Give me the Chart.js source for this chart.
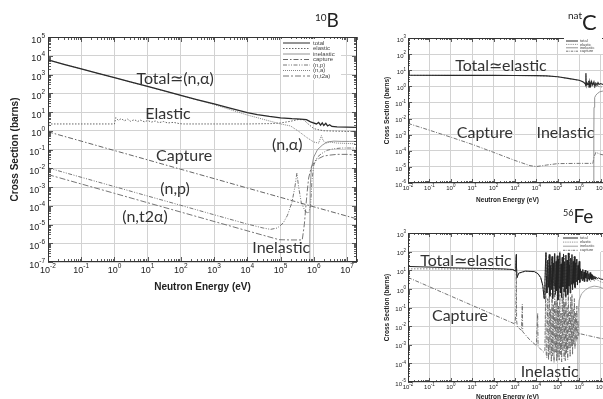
<!DOCTYPE html>
<html>
<head>
<meta charset="utf-8">
<script src="https://cdn.jsdelivr.net/npm/chart.js@4/dist/chart.umd.min.js"></script>
<style>
  html, body { margin: 0; padding: 0; background: #fff; width: 603px; height: 399px; overflow: hidden; }
  body { position: relative; }
  canvas { position: absolute; }
</style>
</head>
<body>
<canvas id="b10" width="372" height="300" style="left:0;top:0"></canvas>
<canvas id="natc" width="260" height="205" style="left:360px;top:0"></canvas>
<canvas id="fe56" width="260" height="199" style="left:360px;top:200px"></canvas>
<script>
// energy axis decades (eV) and cross-section decades (barns)
const xDecades = [-2, -1, 0, 1, 2, 3, 4, 5, 6, 7];
const b10YDecades = [-7, -6, -5, -4, -3, -2, -1, 0, 1, 2, 3, 4, 5];
const cYDecades = [-6, -5, -4, -3, -2, -1, 0, 1, 2, 3];
const feYDecades = [-5, -4, -3, -2, -1, 0, 1, 2, 3];

const b10Labels = ['total', 'elastic', 'inelastic', 'capture', '(n,p)', '(n,a)', '(n,t2a)'];
const mainLabels = ['total', 'elastic', 'inelastic', 'capture'];

// ---- 10B : [energy eV, cross section barns]
const b10Total = [[0.01, 6000], [0.03, 3500], [0.1, 2000], [0.3, 1180], [1, 680], [3, 400], [10, 230],
  [30, 136], [100, 78], [300, 46], [1e3, 27], [3e3, 16], [1e4, 9.2], [2e4, 7.2], [4.6e4, 5.8], [1e5, 4.9],
  [2.2e5, 4.4], [4e5, 4.2], [6e5, 3.9], [8e5, 3.0], [1.2e6, 2.3], [1.4e6, 2.8], [1.6e6, 2.0], [1.8e6, 2.6],
  [2e6, 1.9], [2.3e6, 2.5], [2.6e6, 1.8], [3e6, 2.1], [3.5e6, 1.7], [5e6, 1.6], [1e7, 1.55], [2e7, 1.5]];
const b10Elastic = [[0.01, 2.3], [0.5, 2.3], [1, 2.3], [1.1, 5.0], [1.3, 3.6], [1.6, 4.4], [2, 3.4], [2.5, 4.2],
  [3, 3.2], [4, 3.9], [5, 3.1], [6, 3.7], [8, 3.0], [10, 3.5], [13, 2.9], [17, 3.3], [22, 2.7], [30, 3.1],
  [40, 2.6], [60, 2.8], [90, 2.4], [120, 2.3], [1e3, 2.3], [1e4, 2.3], [5e4, 2.4], [1e5, 2.6], [2e5, 3.2],
  [3.5e5, 4.0], [5e5, 3.8], [7e5, 2.2], [1e6, 1.3], [1.5e6, 1.1], [2e6, 1.0], [5e6, 0.95], [1e7, 0.92], [2e7, 0.9]];
const b10Inelastic = [[7.5e5, 1e-9], [7.6e5, 1e-6], [7.8e5, 1e-3], [8.5e5, 0.01], [1e6, 0.04], [1.3e6, 0.1],
  [1.8e6, 0.17], [2.5e6, 0.25], [4e6, 0.28], [7e6, 0.27], [1.2e7, 0.27], [2e7, 0.27]];
const b10Capture = [[0.01, 0.88], [0.1, 0.28], [1, 0.088], [10, 0.028], [100, 8.8e-3], [1e3, 2.8e-3],
  [1e4, 8.8e-4], [1e5, 2.8e-4], [1e6, 8.8e-5], [1e7, 2.8e-5], [2e7, 2e-5]];
const b10Np = [[0.01, 0.0105], [0.1, 3.3e-3], [1, 1.05e-3], [10, 3.3e-4], [100, 1.05e-4], [1e3, 3.3e-5],
  [1e4, 1.05e-5], [3e4, 6.5e-6], [5e4, 5.5e-6], [8e4, 6.5e-6], [1.2e5, 1.2e-5], [1.6e5, 3e-5], [2.2e5, 1.5e-4],
  [2.7e5, 1e-3], [3.1e5, 5.5e-3], [3.5e5, 1e-3], [4.2e5, 1.5e-4], [5.5e5, 5e-5], [7e5, 4e-5], [8e5, 1e-4],
  [8.8e5, 2e-3], [1e6, 0.015], [1.3e6, 0.04], [1.7e6, 0.06], [2.5e6, 0.09], [4e6, 0.11], [7e6, 0.12],
  [1.2e7, 0.12], [2e7, 0.12]];
const b10Na = [[0.01, 5995], [0.1, 1998], [1, 677], [10, 227], [100, 76], [1e3, 25], [1e4, 6.9], [5e4, 3.2],
  [1e5, 2.3], [2e5, 1.8], [3.6e5, 0.9], [6e5, 0.45], [1e6, 0.25], [1.4e6, 0.22], [1.7e6, 0.55], [1.9e6, 0.3],
  [2.4e6, 0.22], [3e6, 0.25], [5e6, 0.22], [1e7, 0.21], [2e7, 0.2]];
const b10Nt2a = [[0.01, 4.6e-3], [0.1, 1.45e-3], [1, 4.6e-4], [10, 1.45e-4], [100, 4.6e-5], [1e3, 1.45e-5],
  [1e4, 4.6e-6], [9e4, 1.55e-6], [2e5, 1.5e-6], [4.5e5, 1.5e-6], [5.2e5, 1e-5], [5.8e5, 1e-4], [6.3e5, 5e-4],
  [7e5, 3e-3], [8.5e5, 0.012], [1.1e6, 0.025], [1.5e6, 0.035], [2e6, 0.045], [3e6, 0.05], [5e6, 0.055],
  [1e7, 0.055], [2e7, 0.05]];

// ---- natC
const cTotal = [[0.01, 4.85], [1, 4.8], [100, 4.78], [1e3, 4.75], [1e4, 4.65], [3e4, 4.45], [1e5, 3.95],
  [3e5, 3.1], [1e6, 2.4], [1.5e6, 1.9], [1.9e6, 1.5], [2.05e6, 1.1], [2.08e6, 6.5], [2.12e6, 1.2], [2.3e6, 1.7],
  [2.6e6, 1.3], [2.8e6, 2.2], [2.9e6, 0.9], [3.2e6, 1.8], [3.5e6, 1.1], [3.8e6, 2.0], [4.3e6, 1.2], [4.9e6, 1.9],
  [5.4e6, 1.0], [6e6, 1.6], [6.8e6, 1.2], [7.6e6, 1.7], [8.5e6, 1.3], [1e7, 1.5], [1.3e7, 1.3], [2e7, 1.3]];
const cElastic = [[0.01, 4.8], [1, 4.75], [100, 4.74], [1e3, 4.7], [1e4, 4.6], [3e4, 4.4], [1e5, 3.9],
  [3e5, 3.05], [1e6, 2.35], [1.5e6, 1.85], [1.9e6, 1.45], [2.05e6, 1.05], [2.08e6, 6.3], [2.12e6, 1.15],
  [2.3e6, 1.65], [2.6e6, 1.25], [2.8e6, 2.1], [2.9e6, 0.85], [3.2e6, 1.75], [3.5e6, 1.05], [3.8e6, 1.9],
  [4.3e6, 1.15], [4.9e6, 1.6], [5.4e6, 0.8], [6e6, 1.3], [6.8e6, 0.9], [7.6e6, 1.3], [8.5e6, 0.9], [1e7, 1.0],
  [1.3e7, 0.8], [2e7, 0.85]];
const cInelastic = [[4.8e6, 1e-8], [4.85e6, 1e-3], [4.95e6, 0.05], [5.3e6, 0.2], [6e6, 0.28], [7e6, 0.35],
  [9e6, 0.45], [1.2e7, 0.5], [2e7, 0.45]];
const cCapture = [[0.01, 5e-3], [0.1, 1.9e-3], [1, 7e-4], [10, 2.5e-4], [100, 8e-5], [1e3, 2.5e-5],
  [5e3, 1.2e-5], [1e4, 1.05e-5], [3e4, 1.3e-5], [1e5, 1.6e-5], [1e6, 1.65e-5], [4.4e6, 1.65e-5],
  [4.9e6, 4e-5], [6e6, 8e-5], [1e7, 6e-5], [2e7, 5e-5]];

// ---- 56Fe
const feTotal = [[0.01, 16], [0.1, 14.8], [1, 13.5], [10, 12.8], [100, 12.2], [300, 11.8], [800, 11],
  [1050, 9], [1100, 25], [1150, 70], [1180, 15], [1250, 4], [1500, 7], [3000, 9], [8000, 8.5], [1.2e4, 6.5],
  [1.6e4, 4], [2e4, 1.5], [2.3e4, 0.3], [2.5e4, 1.8], [2.7e4, 40], [2.8e4, 90], [2.9e4, 5],
  [3.1e4, 0.6], [3.4e4, 35], [3.7e4, 1.2], [4.0e4, 70], [4.3e4, 0.4], [4.6e4, 18], [5.0e4, 0.9], [5.4e4, 55],
  [5.8e4, 0.3], [6.2e4, 25], [6.7e4, 1.5], [7.2e4, 80], [7.7e4, 0.5], [8.3e4, 30], [8.9e4, 0.8], [9.5e4, 60],
  [1.02e5, 0.25], [1.09e5, 40], [1.17e5, 1.1], [1.25e5, 90], [1.33e5, 0.6], [1.42e5, 22], [1.52e5, 0.35],
  [1.62e5, 50], [1.73e5, 1.3], [1.85e5, 75], [1.98e5, 0.7], [2.11e5, 28], [2.25e5, 0.4], [2.4e5, 65],
  [2.56e5, 1.0], [2.73e5, 35], [2.92e5, 0.5], [3.12e5, 85], [3.33e5, 1.4], [3.55e5, 20], [3.79e5, 0.6],
  [4.05e5, 45], [4.32e5, 1.8], [4.61e5, 70], [4.92e5, 0.9], [5.25e5, 30], [5.6e5, 2.0], [5.98e5, 55],
  [6.38e5, 1.2], [6.81e5, 25], [7.27e5, 2.5], [7.76e5, 40], [8.28e5, 1.6], [8.84e5, 18], [9.43e5, 3.0],
  [1.0e6, 30], [1.07e6, 2.2], [1.14e6, 12], [1.22e6, 3.5], [1.3e6, 9], [1.39e6, 2.8], [1.48e6, 11],
  [1.58e6, 3.2], [1.69e6, 8], [1.8e6, 2.5], [1.92e6, 10], [2.05e6, 3.8], [2.19e6, 7], [2.34e6, 2.6],
  [2.5e6, 9], [2.67e6, 3.4], [2.85e6, 6.5], [3.04e6, 2.9], [3.25e6, 7.5], [3.47e6, 3.6], [3.7e6, 6],
  [3.95e6, 3.1], [4.22e6, 5.5], [4.5e6, 3.3], [4.8e6, 5], [5.13e6, 3.5], [5.48e6, 4.6], [5.85e6, 3.4],
  [6.25e6, 4.2], [7e6, 3.6], [8e6, 3.9], [1e7, 3.4], [1.3e7, 3.2], [2e7, 2.9]];
const feElastic = [[0.01, 11.9], [0.1, 11.9], [1, 11.8], [10, 11.8], [100, 11.7], [800, 10.8], [1050, 8.8],
  [1150, 55], [1180, 14], [1250, 4], [1500, 6.8], [3000, 8.8], [8000, 8.3], [1.2e4, 6.3], [1.6e4, 3.9],
  [2e4, 1.4], [2.3e4, 0.3], [2.5e4, 1.7], [2.8e4, 85], [2.9e4, 4.8], [3.25e4, 0.9], [3.9e4, 60], [4.5e4, 0.5],
  [5.2e4, 45], [6.0e4, 0.4], [7.0e4, 70], [8.0e4, 0.7], [9.2e4, 50], [1.05e5, 0.3], [1.2e5, 80], [1.38e5, 0.9],
  [1.58e5, 45], [1.8e5, 1.2], [2.05e5, 60], [2.35e5, 0.5], [2.65e5, 30], [3.0e5, 0.8], [3.4e5, 75],
  [3.9e5, 1.0], [4.4e5, 40], [5.1e5, 1.5], [5.8e5, 50], [6.6e5, 1.0], [7.5e5, 35], [8.6e5, 2.0], [9.8e5, 25],
  [1.1e6, 2.5], [1.35e6, 8], [1.6e6, 2.4], [1.9e6, 8.5], [2.3e6, 2.2], [2.8e6, 6], [3.4e6, 2.4], [4.2e6, 4.5],
  [5.2e6, 2.6], [6.5e6, 3.5], [8e6, 2.7], [1e7, 2.4], [1.4e7, 2.1], [2e7, 1.9]];
const feInelastic = [[8.6e5, 1e-8], [8.7e5, 1e-3], [9e5, 0.05], [1e6, 0.25], [1.3e6, 0.55], [2e6, 0.9],
  [3e6, 1.2], [5e6, 1.4], [8e6, 1.3], [1.2e7, 1.1], [2e7, 0.9]];
const feCapture = [[0.01, 4.1], [0.1, 1.3], [1, 0.41], [10, 0.13], [100, 0.041], [1e3, 0.013], [1100, 0.05],
  [1150, 20], [1190, 0.02], [1300, 0.009], [2000, 0.006], [2200, 0.15], [2300, 0.005], [5e3, 1.8e-3],
  [1e4, 9e-4], [1.15e4, 0.05], [1.2e4, 8e-4], [1.8e4, 5e-4], [2.2e4, 4e-4], [2.5e4, 5e-4], [2.75e4, 2],
  [2.9e4, 3e-4], [3.1e4, 2e-4], [3.4e4, 0.3], [3.7e4, 1.5e-4], [4.0e4, 1.2], [4.3e4, 3e-4], [4.6e4, 0.08],
  [5.0e4, 1.2e-4], [5.4e4, 0.6], [5.8e4, 2.5e-4], [6.2e4, 0.15], [6.7e4, 1.1e-4], [7.2e4, 2.0], [7.7e4, 4e-4],
  [8.3e4, 0.25], [8.9e4, 1.3e-4], [9.5e4, 0.9], [1.02e5, 2e-4], [1.09e5, 0.12], [1.17e5, 1.5e-4], [1.25e5, 1.5],
  [1.33e5, 3e-4], [1.42e5, 0.05], [1.52e5, 1.2e-4], [1.62e5, 0.4], [1.73e5, 5e-4], [1.85e5, 1.0],
  [1.98e5, 1.8e-4], [2.11e5, 0.2], [2.25e5, 1.4e-4], [2.4e5, 0.7], [2.56e5, 3.5e-4], [2.73e5, 0.1],
  [2.92e5, 1.6e-4], [3.12e5, 1.3], [3.33e5, 6e-4], [3.55e5, 0.06], [3.79e5, 2.2e-4], [4.05e5, 0.35],
  [4.32e5, 8e-4], [4.61e5, 0.5], [4.92e5, 3e-4], [5.25e5, 0.08], [5.6e5, 1e-3], [5.98e5, 0.3], [6.38e5, 6e-4],
  [6.81e5, 0.05], [7.27e5, 1.5e-3], [7.76e5, 0.12], [8.28e5, 2e-3], [8.84e5, 0.02], [9.43e5, 3e-3],
  [1e6, 4e-3], [3e6, 3e-3], [1e7, 2.2e-3], [2e7, 2e-3]];

const GRID = '#d2d2d2';
const TICK_FONT = '"Liberation Sans", Arial, sans-serif';
const NOTE_FONT = 'Lato, "Open Sans", sans-serif';

// "10" with a raised exponent; (x, y) is the middle of the "10"
function drawPow(ctx, exp, x, y, align, size, expSize) {
  ctx.font = size + 'px ' + TICK_FONT;
  const wb = ctx.measureText('10').width;
  ctx.font = expSize + 'px ' + TICK_FONT;
  const we = ctx.measureText(String(exp)).width;
  const x0 = align === 'right' ? x - wb - we : x - (wb + we) / 2;
  ctx.textAlign = 'left';
  ctx.textBaseline = 'alphabetic';
  ctx.font = size + 'px ' + TICK_FONT;
  ctx.fillText('10', x0, y + size * 0.36);
  ctx.font = expSize + 'px ' + TICK_FONT;
  ctx.fillText(String(exp), x0 + wb, y - size * 0.2);
}

// frame, inner tick marks, tick labels, axis titles, legend and notes
const decor = {
  id: 'decor',
  afterDatasetsDraw(chart, args, o) {
    const { ctx, chartArea: a, scales: { x, y } } = chart;
    ctx.save();
    ctx.setLineDash([]);
    ctx.strokeStyle = '#333';
    ctx.lineWidth = 1;
    ctx.strokeRect(a.left + 0.5, a.top + 0.5, a.right - a.left - 1, a.bottom - a.top - 1);

    ctx.lineWidth = 0.8;
    ctx.beginPath();
    for (const d of o.xDecades.concat([o.xDecades[o.xDecades.length - 1] + 1])) {
      for (let m = 1; m < 10; m++) {
        const v = m * Math.pow(10, d);
        if (v < x.min || v > x.max) continue;
        const px = Math.round(x.getPixelForValue(v)) + 0.5;
        const len = m === 1 ? o.major : o.minor;
        ctx.moveTo(px, a.bottom); ctx.lineTo(px, a.bottom - len);
        ctx.moveTo(px, a.top); ctx.lineTo(px, a.top + len);
      }
    }
    for (const d of o.yDecades) {
      for (let m = 1; m < 10; m++) {
        const v = m * Math.pow(10, d);
        if (v < y.min || v > y.max) continue;
        const py = Math.round(y.getPixelForValue(v)) + 0.5;
        const len = m === 1 ? o.major : o.minor;
        ctx.moveTo(a.left, py); ctx.lineTo(a.left + len, py);
        ctx.moveTo(a.right, py); ctx.lineTo(a.right - len, py);
      }
    }
    ctx.stroke();

    // tick labels
    ctx.fillStyle = '#222';
    for (const d of o.xDecades) {
      drawPow(ctx, d, x.getPixelForValue(Math.pow(10, d)), a.bottom + o.xLabelGap, 'center', o.tickSize, o.expSize);
    }
    for (const d of o.yDecades) {
      drawPow(ctx, d, a.left - o.yLabelGap, y.getPixelForValue(Math.pow(10, d)) + o.yLabelDy, 'right', o.tickSize, o.expSize);
    }

    // axis titles
    ctx.fillStyle = '#222';
    ctx.font = 'bold ' + o.titleSize + 'px ' + TICK_FONT;
    ctx.textAlign = 'center';
    ctx.textBaseline = 'middle';
    ctx.fillText('Neutron Energy (eV)', (a.left + a.right) / 2 + o.xTitleDx, a.bottom + o.xTitleGap);
    ctx.save();
    ctx.translate(a.left - o.yTitleGap, (a.top + a.bottom) / 2);
    ctx.rotate(-Math.PI / 2);
    ctx.fillText('Cross Section (barns)', 0, 0);
    ctx.restore();

    // legend
    const lg = o.legend;
    ctx.fillStyle = '#fff';
    ctx.fillRect(lg.box[0], lg.box[1], lg.box[2], lg.box[3]);
    chart.data.datasets.forEach((ds, i) => {
      const ly = lg.y + i * lg.dy;
      ctx.strokeStyle = ds.borderColor;
      ctx.lineWidth = Math.min(ds.borderWidth, 1);
      ctx.setLineDash((ds.borderDash || []).map(v => v * lg.dashScale));
      ctx.beginPath();
      ctx.moveTo(lg.x0, ly); ctx.lineTo(lg.x1, ly);
      ctx.stroke();
      ctx.setLineDash([]);
      ctx.fillStyle = '#444';
      ctx.font = lg.size + 'px ' + TICK_FONT;
      ctx.textAlign = 'left';
      ctx.textBaseline = 'middle';
      ctx.fillText(ds.label, lg.tx, ly);
    });

    // curve names
    ctx.fillStyle = '#333';
    ctx.textAlign = 'center';
    ctx.textBaseline = 'middle';
    for (const n of o.notes) {
      ctx.font = n.size + 'px ' + NOTE_FONT;
      ctx.fillText(n.text, x.getPixelForValue(n.e), y.getPixelForValue(n.s));
    }

    // nuclide name
    const t = o.nuclide;
    ctx.textAlign = 'left';
    ctx.textBaseline = 'alphabetic';
    ctx.fillStyle = '#222';
    ctx.font = t.supSize + 'px ' + NOTE_FONT;
    const ws = ctx.measureText(t.sup).width;
    ctx.fillText(t.sup, t.x, t.y - t.raise);
    ctx.font = t.size + 'px ' + NOTE_FONT;
    ctx.fillText(t.main, t.x + ws, t.y);
    ctx.restore();
  }
};

const pts = arr => arr.map(([x, y]) => ({ x, y }));

function sigmaChart(id, series, yMin, yMax, yDecades, pad, deco) {
  return new Chart(document.getElementById(id), {
    type: 'line',
    data: {
      datasets: series.map(s => ({
        label: s.label, data: pts(s.data), borderColor: s.color, borderWidth: s.width,
        borderDash: s.dash, pointRadius: 0, tension: 0, fill: false
      }))
    },
    options: {
      responsive: false,
      animation: false,
      events: [],
      layout: { padding: pad },
      scales: {
        x: {
          type: 'logarithmic', min: 0.01, max: 2e7,
          afterBuildTicks: s => { s.ticks = xDecades.map(d => ({ value: Math.pow(10, d) })); },
          afterFit: s => { s.height = 0; },
          ticks: { display: false },
          grid: { color: GRID, lineWidth: 1, drawTicks: false },
          border: { display: false }
        },
        y: {
          type: 'logarithmic', min: yMin, max: yMax,
          afterBuildTicks: s => { s.ticks = yDecades.map(d => ({ value: Math.pow(10, d) })); },
          afterFit: s => { s.width = 0; },
          ticks: { display: false },
          grid: { color: GRID, lineWidth: 1, drawTicks: false },
          border: { display: false }
        }
      },
      plugins: {
        legend: { display: false },
        tooltip: { enabled: false },
        decor: Object.assign({ xDecades, yDecades }, deco)
      }
    },
    plugins: [decor]
  });
}

// 10B
sigmaChart('b10', [
  { label: b10Labels[0], data: b10Total, color: '#2a2a2a', width: 1.3, dash: [] },
  { label: b10Labels[1], data: b10Elastic, color: '#666', width: 1, dash: [1.5, 1.5] },
  { label: b10Labels[2], data: b10Inelastic, color: '#777', width: 0.8, dash: [] },
  { label: b10Labels[3], data: b10Capture, color: '#555', width: 0.9, dash: [5, 2, 1.5, 2] },
  { label: b10Labels[4], data: b10Np, color: '#666', width: 0.9, dash: [4, 1.5, 1, 1.5, 1, 1.5] },
  { label: b10Labels[5], data: b10Na, color: '#777', width: 0.9, dash: [1, 1] },
  { label: b10Labels[6], data: b10Nt2a, color: '#666', width: 0.9, dash: [6, 2, 2, 2] }
], 1e-7, 1e5, b10YDecades, { left: 48, top: 37, right: 15, bottom: 38 }, {
  major: 5, minor: 3, tickSize: 9, expSize: 6.5, xLabelGap: 8, yLabelGap: 3, yLabelDy: 2.5,
  titleSize: 10, xTitleGap: 25, xTitleDx: 0, yTitleGap: 33,
  legend: { box: [281, 39, 60, 41], x0: 283, x1: 310, tx: 313, y: 43, dy: 5.5, size: 6, dashScale: 1 },
  notes: [
    { text: 'Total\u2243(n,\u03b1)', e: 67, s: 575, size: 16 },
    { text: 'Elastic', e: 41, s: 7.8, size: 16 },
    { text: 'Capture', e: 125, s: 0.045, size: 16 },
    { text: '(n,p)', e: 67, s: 7.8e-4, size: 16 },
    { text: '(n,t2\u03b1)', e: 8.3, s: 2.5e-5, size: 16 },
    { text: '(n,\u03b1)', e: 1.6e5, s: 0.17, size: 16 },
    { text: 'Inelastic', e: 1.05e5, s: 5.6e-7, size: 16 }
  ],
  nuclide: { sup: '10', main: 'B', x: 315, y: 27, size: 19, supSize: 10, raise: 6 }
});

// natC
sigmaChart('natc', [
  { label: mainLabels[0], data: cTotal, color: '#2a2a2a', width: 1.1, dash: [] },
  { label: mainLabels[1], data: cElastic, color: '#777', width: 0.9, dash: [1.5, 1.5] },
  { label: mainLabels[2], data: cInelastic, color: '#888', width: 0.9, dash: [] },
  { label: mainLabels[3], data: cCapture, color: '#666', width: 0.9, dash: [4, 1.5, 1, 1.5] }
], 1e-6, 1e3, cYDecades, { left: 48, top: 38, right: 13, bottom: 22 }, {
  major: 4, minor: 2, tickSize: 6, expSize: 4.5, xLabelGap: 5, yLabelGap: 2, yLabelDy: 1.5,
  titleSize: 6.5, xTitleGap: 17, xTitleDx: 0, yTitleGap: 21,
  legend: { box: [204, 38, 38, 16], x0: 206, x1: 218, tx: 220, y: 41, dy: 3.4, size: 4, dashScale: 0.6 },
  notes: [
    { text: 'Total\u2243elastic', e: 220, s: 18, size: 16 },
    { text: 'Capture', e: 39, s: 1.26e-3, size: 16 },
    { text: 'Inelastic', e: 2.3e5, s: 1.26e-3, size: 16 }
  ],
  nuclide: { sup: 'nat', main: 'C', x: 208, y: 30, size: 22, supSize: 10, raise: 11 }
});

// 56Fe
sigmaChart('fe56', [
  { label: mainLabels[0], data: feTotal, color: '#222', width: 1, dash: [] },
  { label: mainLabels[1], data: feElastic, color: '#777', width: 0.9, dash: [1.5, 1.5] },
  { label: mainLabels[2], data: feInelastic, color: '#999', width: 0.9, dash: [] },
  { label: mainLabels[3], data: feCapture, color: '#666', width: 0.9, dash: [4, 1.5, 1, 1.5] }
], 1e-5, 1e3, feYDecades, { left: 48, top: 33, right: 13, bottom: 17 }, {
  major: 4, minor: 2, tickSize: 6, expSize: 4.5, xLabelGap: 5, yLabelGap: 2, yLabelDy: 1.5,
  titleSize: 6.5, xTitleGap: 15, xTitleDx: 0, yTitleGap: 21,
  legend: { box: [201, 35, 40, 17], x0: 203, x1: 218, tx: 220, y: 38, dy: 4.1, size: 4, dashScale: 0.6 },
  notes: [
    { text: 'Total\u2243elastic', e: 5.1, s: 31, size: 16 },
    { text: 'Capture', e: 2.7, s: 0.035, size: 16 },
    { text: 'Inelastic', e: 4.2e4, s: 3.4e-5, size: 16 }
  ],
  nuclide: { sup: '56', main: 'Fe', x: 203, y: 23, size: 19, supSize: 9, raise: 7 }
});
</script>
</body>
</html>
